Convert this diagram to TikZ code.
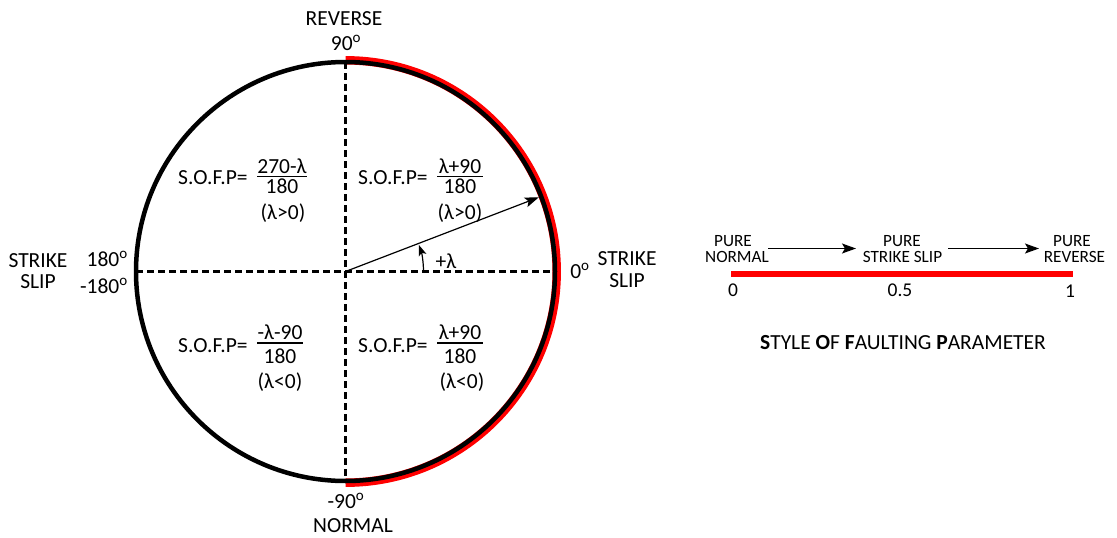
\documentclass[tikz,border=0pt]{standalone}
\usepackage{fontspec}
\setmainfont{Carlito}
\usetikzlibrary{arrows.meta}
\begin{document}
\begin{tikzpicture}[x=1pt,y=1pt,
  lbl/.style={font=\fontsize{21.5}{24}\selectfont, inner sep=0pt},
  eqn/.style={font=\fontsize{21.5}{24}\selectfont, inner sep=0pt},
  sm/.style={font=\fontsize{17.2}{20}\selectfont, inner sep=0pt},
  num/.style={font=\fontsize{19.5}{22}\selectfont, inner sep=0pt},
  dashline/.style={line width=3pt, dash pattern=on 7pt off 4pt},
  fracbar/.style={line width=1.5pt},
  thinarrow/.style={line width=1.2pt, -{Stealth[length=14pt,width=10pt,inset=3pt]}},
  smallarrow/.style={line width=1.2pt, -{Stealth[length=11pt,width=8pt,inset=2.5pt]}},
]
\path[use as bounding box] (0,0) rectangle (1117,-538);

% ---- faulting circle ----
\coordinate (C) at (345.5,-271.5);
\coordinate (T) at (345.5,-62);
\coordinate (B) at (345.5,-481);
\coordinate (L) at (136,-271.5);
\coordinate (R) at (555,-271.5);
\coordinate (P) at (538.8,-197.3);

% reverse-to-normal half, highlighted
\draw[red, line width=8.5pt] (345.5,-60.3) arc[start angle=90, end angle=-90, radius=211.2pt];
\draw[line width=4.5pt] (C) circle[radius=209.5pt];

\draw[dashline] (T) -- (B);
\draw[dashline] (L) -- (R);

% rake vector and angle
\draw[thinarrow] (C) -- (P);
\draw[smallarrow] (423.5,-271.5) arc[start angle=0, end angle=20, radius=78pt];
\node[lbl, anchor=base] (lam) at (446,-268) {+λ};

% ---- circle labels ----
\node[lbl, anchor=base] (rev) at (344,-25) {REVERSE};
\node[lbl, anchor=base] (n90) at (346,-50) {90\textsuperscript{o}};
\node[lbl, anchor=base] (m90) at (346,-508) {-90\textsuperscript{o}};
\node[lbl, anchor=base] (nor) at (353,-532) {NORMAL};
\node[lbl, anchor=base] (ssl1) at (38,-267) {STRIKE};
\node[lbl, anchor=base] (ssl2) at (38,-288) {SLIP};
\node[lbl, anchor=base east] (p180) at (128,-266) {180\textsuperscript{o}};
\node[lbl, anchor=base east] (m180) at (128,-293) {-180\textsuperscript{o}};
\node[lbl, anchor=base] (z0) at (580,-278) {0\textsuperscript{o}};
\node[lbl, anchor=base] (ssr1) at (627,-265) {STRIKE};
\node[lbl, anchor=base] (ssr2) at (627,-287) {SLIP};

% ---- quadrant formulas ----
% upper left
\node[eqn, anchor=base west] (ulS) at (178,-184) {S.O.F.P=};
\node[eqn, anchor=base] (ulN) at (282,-173) {270-λ};
\draw[fracbar] (257,-176.5) -- (307,-176.5);
\node[eqn, anchor=base] (ulD) at (282,-193) {180};
\node[eqn, anchor=base] (ulC) at (283,-219) {(λ>0)};
% upper right
\node[eqn, anchor=base west] (urS) at (358,-184) {S.O.F.P=};
\node[eqn, anchor=base] (urN) at (460,-173) {λ+90};
\draw[fracbar] (437,-176.5) -- (483,-176.5);
\node[eqn, anchor=base] (urD) at (460,-193) {180};
\node[eqn, anchor=base] (urC) at (460,-219) {(λ>0)};
% lower left
\node[eqn, anchor=base west] (llS) at (178,-352) {S.O.F.P=};
\node[eqn, anchor=base] (llN) at (280,-339) {-λ-90};
\draw[fracbar] (257,-343) -- (303,-343);
\node[eqn, anchor=base] (llD) at (280,-363) {180};
\node[eqn, anchor=base] (llC) at (280,-388) {(λ<0)};
% lower right
\node[eqn, anchor=base west] (lrS) at (358,-352) {S.O.F.P=};
\node[eqn, anchor=base] (lrN) at (460,-339) {λ+90};
\draw[fracbar] (437,-343) -- (483,-343);
\node[eqn, anchor=base] (lrD) at (460,-363) {180};
\node[eqn, anchor=base] (lrC) at (462,-388) {(λ<0)};

% ---- style of faulting scale ----
\node[sm, anchor=base] (pn1) at (733,-246) {PURE};
\node[sm, anchor=base] (pn2) at (737,-262) {NORMAL};
\node[sm, anchor=base] (ps1) at (902,-246) {PURE};
\node[sm, anchor=base] (ps2) at (902.5,-262) {STRIKE SLIP};
\node[sm, anchor=base] (pr1) at (1072,-246) {PURE};
\node[sm, anchor=base] (pr2) at (1074.5,-262) {REVERSE};

\coordinate (a1s) at (768,-248.5);
\coordinate (a1e) at (856,-248.5);
\coordinate (a2s) at (948,-248.5);
\coordinate (a2e) at (1039,-248.5);
\draw[thinarrow] (a1s) -- (a1e);
\draw[thinarrow] (a2s) -- (a2e);

\coordinate (sL) at (731,-273.5);
\coordinate (sR) at (1073,-273.5);
\draw[red, line width=6pt] (sL) -- (sR);

\node[num, anchor=base] (v0) at (733,-296) {0};
\node[num, anchor=base] (v05) at (900,-296) {0.5};
\node[num, anchor=base] (v1) at (1070,-297) {1};

\node[lbl, anchor=base] (ttl) at (903,-349) {\textbf{S}TYLE \textbf{O}F \textbf{F}AULTING \textbf{P}ARAMETER};
\end{tikzpicture}
\end{document}
